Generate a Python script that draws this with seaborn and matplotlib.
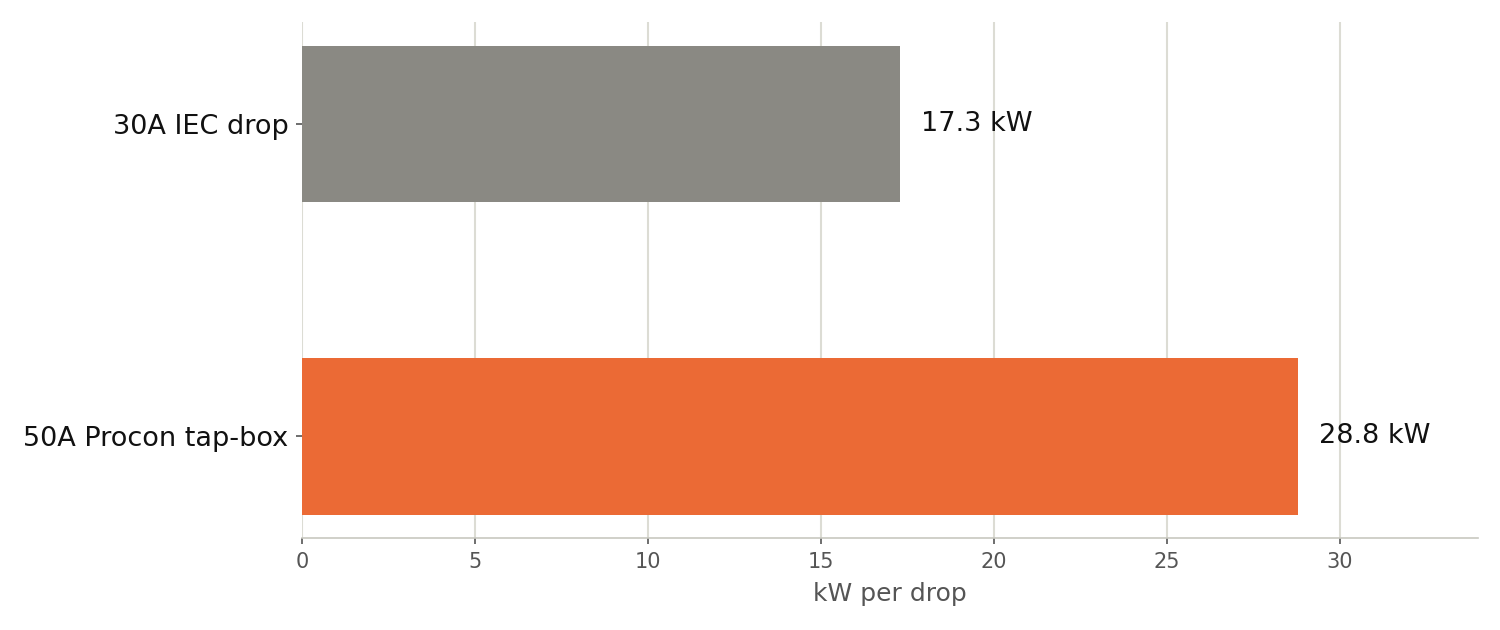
import pandas as pd
import matplotlib.pyplot as plt
import seaborn as sns

drops = ["30A IEC drop", "50A Procon tap-box"]
kw = [17.3, 28.8]
labels = ["17.3 kW", "28.8 kW"]
colors = ["#8a8983", "#eb6a35"]

df = pd.DataFrame({"drop": drops, "kw": kw})

sns.set_style("white")
plt.rcParams['font.family'] = ['DejaVu Sans']

fig, ax = plt.subplots(figsize=(10, 4.2), dpi=150)
fig.subplots_adjust(left=0.2013, right=0.9853, top=0.965, bottom=0.146)

sns.barplot(data=df, x="kw", y="drop", hue="drop", palette=colors, width=0.5,
            dodge=False, legend=False, ax=ax, saturation=1, linewidth=0)

for i, (v, t) in enumerate(zip(kw, labels)):
    ax.text(v + 0.6, i, t, va="center", ha="left", fontsize=13, color="#111111")

ax.set_xlim(0, 34)
# matplotlib default 5% margin around the bars
ax.set_ylim(len(drops) - 1 + 0.325, -0.325)
ax.set_xticks([0, 5, 10, 15, 20, 25, 30])
ax.grid(True, axis="x", color="#dcdcd4", linewidth=1)
ax.set_axisbelow(True)
for s in ["top", "right", "left"]:
    ax.spines[s].set_visible(False)
ax.spines["bottom"].set_color("#c8c8c0")
ax.tick_params(axis="x", bottom=True, labelsize=10, colors="#555555", length=3, color="#555555")
ax.tick_params(axis="y", left=True, labelsize=13, labelcolor="#111111", length=3, color="#555555")
ax.set_xlabel("kW per drop", fontsize=12, color="#555555", labelpad=5)
ax.set_ylabel("")

plt.savefig("out.png", dpi=150)
